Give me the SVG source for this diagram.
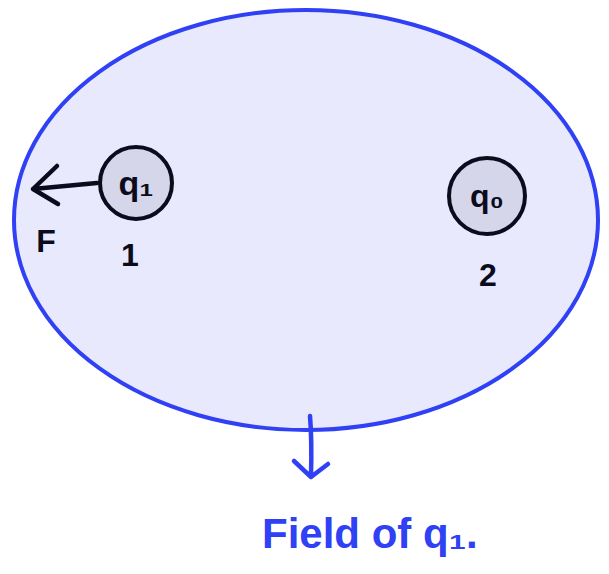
<svg xmlns="http://www.w3.org/2000/svg" width="609" height="574" viewBox="0 0 609 574">
<style>
.charge{fill:#d5d6ea;stroke:#0b0b1c;stroke-width:4}
.ink{fill:none;stroke:#0b0b1c;stroke-width:4.5;stroke-linecap:round;stroke-linejoin:round}
.blue{fill:none;stroke:#2f40f5;stroke-width:4.5;stroke-linecap:round;stroke-linejoin:round}
.t{font-family:"Liberation Sans",Arial,sans-serif;fill:#0b0b1c;font-weight:bold}
</style>
<rect width="609" height="574" fill="#ffffff"/>
<g id="field">
<ellipse cx="306" cy="220" rx="292" ry="210" fill="#e8e9fc" stroke="#2f40f5" stroke-width="4"/>
</g>
<g id="connectors">
<path class="ink" d="M97 183 L33 189 M57 166 L33 189 L58 204"/>
<path class="blue" d="M310 416 Q312 440 311 477 M294 461 L311 477 L328 464"/>
</g>
<g id="charge1">
<circle class="charge" cx="136" cy="183" r="36"/>
<text class="t" x="136" y="195" font-size="34" text-anchor="middle">q₁</text>
<text class="t" x="130" y="266" font-size="32" text-anchor="middle">1</text>
</g>
<g id="force-label">
<text class="t" x="46" y="252" font-size="32" text-anchor="middle">F</text>
</g>
<g id="charge2">
<circle class="charge" cx="487" cy="196" r="38"/>
<text class="t" x="487" y="207" font-size="32" text-anchor="middle">q₀</text>
<text class="t" x="488" y="286" font-size="32" text-anchor="middle">2</text>
</g>
<g id="field-label">
<text x="262" y="548" font-family="'Liberation Sans',Arial,sans-serif" font-size="42" font-weight="bold" fill="#2f40f5">Field of q₁.</text>
</g>
</svg>
